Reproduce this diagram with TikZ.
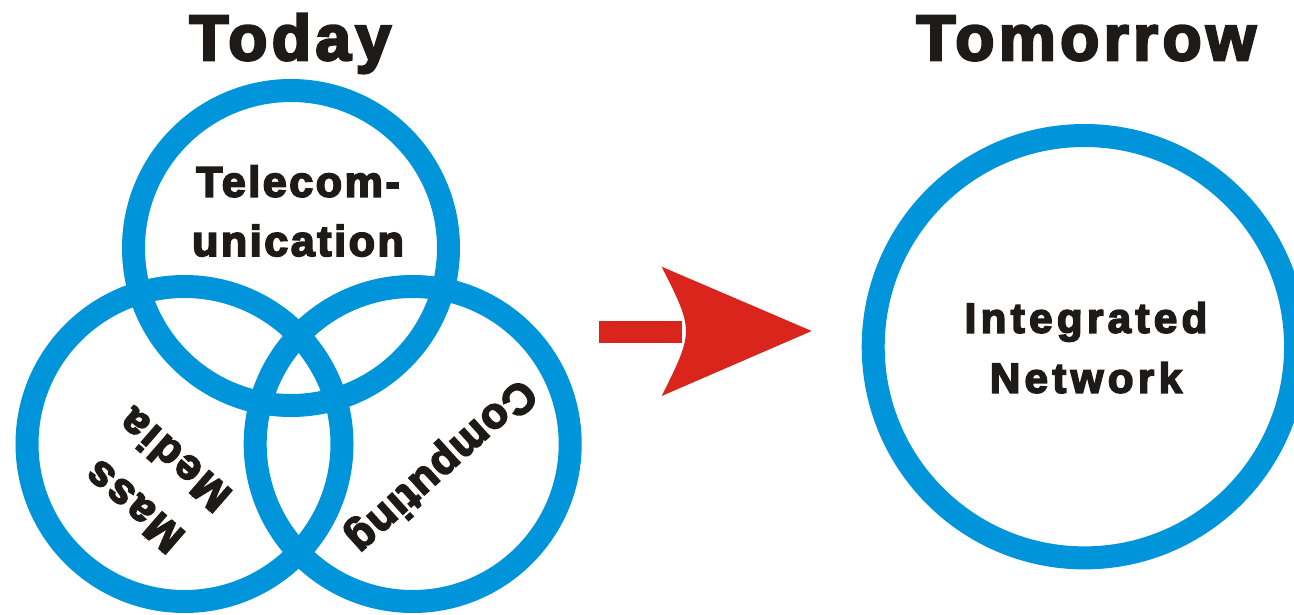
\documentclass[tikz,border=0pt]{standalone}
\usepackage{fontspec}
\newfontfamily\ttlfont[LetterSpace=7,FakeBold=4]{Liberation Sans}
\newfontfamily\lblfont[LetterSpace=6,FakeBold=4]{Liberation Sans}
\newfontfamily\netfont[LetterSpace=10.5,FakeBold=4]{Liberation Sans}
\newfontfamily\cmpfont[LetterSpace=3,FakeBold=4]{Liberation Sans}
\definecolor{ringblue}{RGB}{0,149,219}
\definecolor{arrowred}{RGB}{218,37,29}
\definecolor{txt}{RGB}{30,26,23}
\begin{document}
\begin{tikzpicture}[x=1pt,y=-1pt,
  ring/.style={draw=ringblue, line width=23pt},
  ttl/.style={text=txt, inner sep=0pt, anchor=base, font=\ttlfont\bfseries\fontsize{64}{70}\selectfont},
  lbl/.style={text=txt, inner sep=0pt, font=\lblfont\bfseries\fontsize{43}{62}\selectfont},
  netlbl/.style={text=txt, inner sep=0pt, anchor=base, font=\netfont\bfseries\fontsize{42}{60}\selectfont},
  cmplbl/.style={text=txt, inner sep=0pt, font=\cmpfont\bfseries\fontsize{43}{60}\selectfont}]
\useasboundingbox (0,0) rectangle (1294,615);
\fill[white] (0,0) rectangle (1294,615);
% centres
\coordinate (cT) at (291,248);
\coordinate (cM) at (184.5,444);
\coordinate (cC) at (412.7,444);
\coordinate (cN) at (1084.4,346.7);
% rings
\draw[ring] (cT) circle[radius=157.5];
\draw[ring] (cM) circle[radius=157.5];
\draw[ring] (cC) circle[radius=157.5];
\draw[ring] (cN) circle[radius=211.2];
% titles
\node[ttl] (today) at (290.3,60) {Today};
\node[ttl] (tomorrow) at (1086.2,60) {Tomorrow};
% labels
\node[lbl, anchor=base] (tel1) at (298,196.7) {Telecom-};
\node[lbl, anchor=base] (tel2) at (298,256) {unication};
\node[lbl, align=center, rotate=139] (mass) at (154.2,483.3) {Mass\\Media};
\node[cmplbl, rotate=222] (comp) at (440,465) {Computing};
\node[netlbl] (int1) at (1086,332.7) {Integrated};
\node[netlbl] (int2) at (1086,392.7) {Network};
% arrow
\coordinate (ashaftA) at (599.3,320.7);
\coordinate (ashaftB) at (682,342.7);
\coordinate (aheadT) at (661.7,266.7);
\coordinate (atip) at (811.7,331);
\coordinate (aheadB) at (661.7,396);
\coordinate (aback) at (694,331);
\fill[arrowred] (ashaftA) rectangle (ashaftB);
\fill[arrowred] (aheadT) -- (atip) -- (aheadB) .. controls (aback) .. (aheadT) -- cycle;
\end{tikzpicture}
\end{document}
